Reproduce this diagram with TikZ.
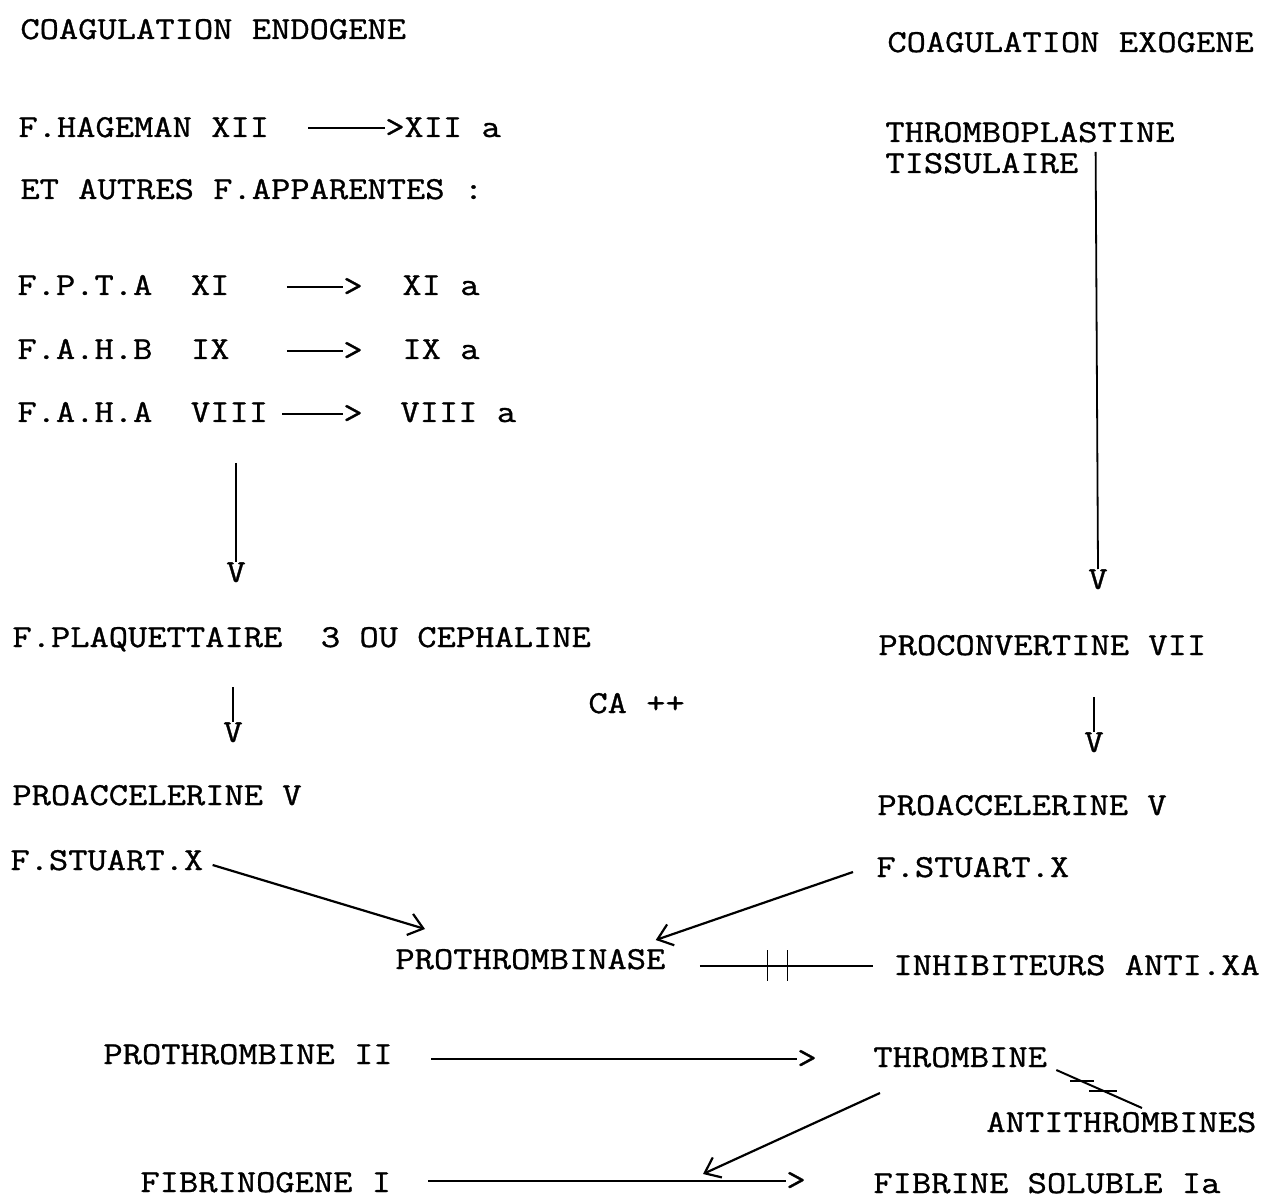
\documentclass[tikz,border=0pt]{standalone}
\usepackage{fontspec}
\setmonofont{Latin Modern Mono}[FakeStretch=1.17,FakeBold=1]
\usetikzlibrary{arrows.meta,calc}
\begin{document}
\begin{tikzpicture}[x=0.5pt,y=-0.5pt,
  lbl/.style={anchor=base west,inner sep=0pt,font=\ttfamily\fontsize{16pt}{18pt}\selectfont},
  tiptext/.style={inner sep=0pt,font=\ttfamily\fontsize{16pt}{18pt}\selectfont},
  typed/.style={line width=0.8pt},
  bar/.style={line width=0.9pt},
  hand/.style={line width=1.1pt,-{Straight Barb[length=7pt,width=11pt]}}]

\fill[white] (0,0) rectangle (1264,1203);
\useasboundingbox (0,0) rectangle (1264,1203);

% headings
\node[lbl] (endo) at (20,39) {COAGULATION ENDOGENE};
\node[lbl] (exo) at (887,52) {COAGULATION EXOGENE};

% intrinsic factors
\node[lbl] (hag) at (18,137) {F.HAGEMAN XII};
\node[tiptext,anchor=west] (h1) at (385,128) {>};
\node[lbl] (hagA) at (404,137) {XII a};
\draw[typed] ($(hag.base east)+(39,-9)$) -- (h1.west);

\node[lbl] (autres) at (20,199) {ET AUTRES F.APPARENTES :};

\node[lbl] (pta) at (17,295) {F.P.T.A~~XI};
\node[tiptext,anchor=west] (h2) at (343,287) {>};
\node[lbl] (ptaA) at (402,295) {XI a};
\draw[typed] ($(pta.base east)+(57,-8)$) -- (h2.west);

\node[lbl] (ahb) at (17,359) {F.A.H.B~~IX};
\node[tiptext,anchor=west] (h3) at (343,351) {>};
\node[lbl] (ahbA) at (402,359) {IX a};
\draw[typed] ($(ahb.base east)+(57,-8)$) -- (h3.west);

\node[lbl] (aha) at (17,422) {F.A.H.A~~VIII};
\node[tiptext,anchor=west] (h4) at (343,414) {>};
\node[lbl] (ahaA) at (400,422) {VIII a};
\draw[typed] ($(aha.base east)+(14,-8)$) -- (h4.west);

% left vertical arrows
\coordinate (v1top) at (236,463);
\node[tiptext,anchor=north] (v1) at (236,562) {V};
\draw[bar] (v1top) -- (v1.north);

\node[lbl] (plaq) at (12,647) {F.PLAQUETTAIRE~~3 OU CEPHALINE};

\coordinate (v3top) at (233,687);
\node[tiptext,anchor=north] (v3) at (233,722) {V};
\draw[bar] (v3top) -- (v3.north);

\node[lbl] (ca) at (588,713) {CA ++};

\node[lbl] (pacl) at (12,805) {PROACCELERINE V};
\node[lbl] (stl) at (10,870) {F.STUART.X};

% extrinsic side
\node[lbl] (thrombo) at (885,142) {THROMBOPLASTINE};
\node[lbl] (tis) at (885,173) {TISSULAIRE};
\node[tiptext,anchor=north] (v2) at (1098,569) {V};
\draw[bar] ($(tis.base east)+(17,-21)$) -- (v2.north);

\node[lbl] (proconv) at (878,655) {PROCONVERTINE VII};
\coordinate (v4top) at (1094,697);
\node[tiptext,anchor=north] (v4) at (1094,732) {V};
\draw[bar] (v4top) -- (v4.north);

\node[lbl] (pacr) at (877,815) {PROACCELERINE V};
\node[lbl] (str) at (876,877) {F.STUART.X};

% prothrombinase
\node[lbl] (pth) at (395,969) {PROTHROMBINASE};
\node[lbl] (inh) at (893,975) {INHIBITEURS ANTI.XA};

\draw[hand] ($(stl.base east)+(9,-5)$) -- ($(pth.base west)+(30,-40)$);
\draw[hand] ($(str.base west)+(-23,-5)$) -- ($(pth.base east)+(-10,-29)$);

\draw[typed] ($(pth.base east)+(34,-3)$) -- ($(inh.base west)+(-20,-9)$)
  coordinate[pos=0.39] (k1) coordinate[pos=0.506] (k2);
\draw[typed] ($(k1)+(0,-16)$) -- ($(k1)+(0,15)$);
\draw[typed] ($(k2)+(0,-16)$) -- ($(k2)+(0,15)$);

% thrombin
\node[lbl] (pro2) at (103,1064) {PROTHROMBINE II};
\node[tiptext,anchor=west] (h5) at (797,1059) {>};
\draw[typed] ($(pro2.base east)+(38,-5)$) -- (h5.west);
\node[lbl] (thr) at (873,1067) {THROMBINE};

\node[lbl] (anti) at (986,1132) {ANTITHROMBINES};
\draw[line width=1pt] ($(thr.base east)+(9,3)$) -- ($(anti.base west)+(156,-24)$)
  coordinate[pos=0.3] (c1) coordinate[pos=0.55] (c2);
\draw[line width=1pt] ($(c1)+(-12,0)$) -- ($(c1)+(12,0)$);
\draw[line width=1pt] ($(c2)+(-14,0)$) -- ($(c2)+(14,0)$);

% fibrin
\node[lbl] (fgn) at (140,1192) {FIBRINOGENE I};
\node[tiptext,anchor=west] (h6) at (786,1181) {>};
\draw[typed] ($(fgn.base east)+(37,-11)$) -- (h6.west);
\node[lbl] (fib) at (873,1193) {FIBRINE SOLUBLE Ia};

\coordinate (fe) at ($(h6.west)+(-83,-7)$);
\draw[hand] ($(thr.base west)+(7,26)$) -- (fe);
\end{tikzpicture}
\end{document}
